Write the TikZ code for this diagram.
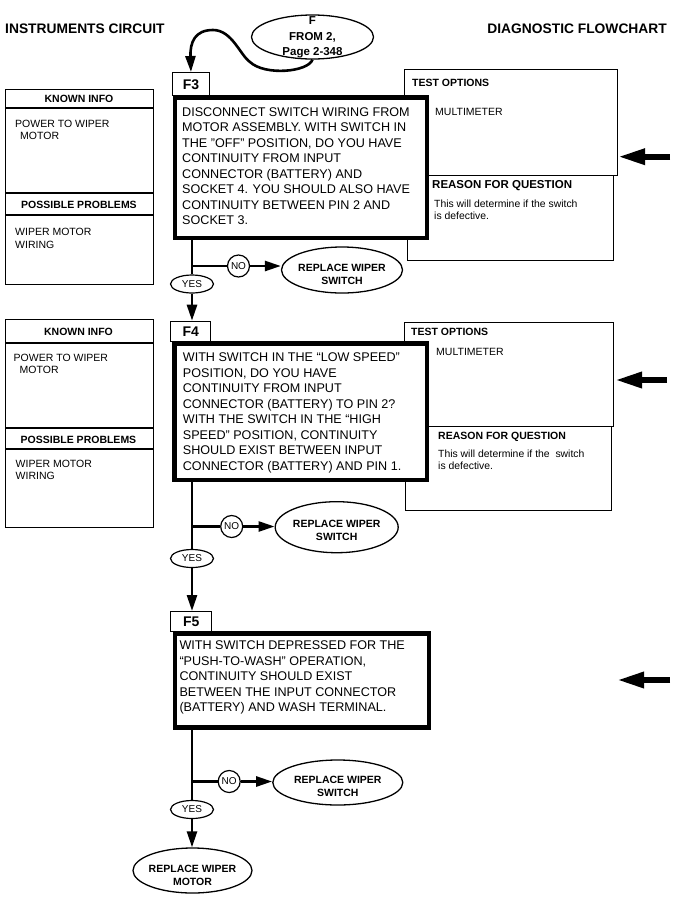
\documentclass[tikz,border=0pt]{standalone}
\usepackage{fontspec}
\setmainfont{Liberation Sans}
\usetikzlibrary{shapes.geometric,arrows.meta,calc}
\tikzset{
  thinbox/.style={draw, line width=1.2pt, inner sep=0pt, anchor=north west},
  mainbox/.style={draw, line width=4.8pt, fill=white, inner sep=0pt, anchor=north west},
  labbox/.style={draw, line width=1.4pt, fill=white, inner sep=0pt, anchor=north west, font=\fontsize{14}{16}\selectfont\bfseries},
  maintxt/.style={inner sep=0pt, anchor=north west, align=left, font=\fontsize{12.6}{15.5}\selectfont},
  headtxt/.style={inner sep=0pt, font=\fontsize{10.5}{12}\selectfont\bfseries},
  plaintxt/.style={inner sep=0pt, font=\fontsize{10.5}{12}\selectfont},
  infotxt/.style={inner sep=0pt, anchor=north west, align=left, font=\fontsize{10.5}{12.5}\selectfont},
  notetxt/.style={inner sep=0pt, anchor=north west, align=left, font=\fontsize{10.4}{12.2}\selectfont},
  thinoval/.style={ellipse, draw, line width=1.3pt, fill=white, inner sep=0pt},
  ovaltxt/.style={inner sep=0pt, anchor=north, align=center, font=\fontsize{10.5}{13}\selectfont\bfseries},
  ftxt/.style={inner sep=0pt, anchor=north, align=center, font=\fontsize{11.5}{15.5}\selectfont\bfseries},
  yesoval/.style={ellipse, draw, line width=1.2pt, fill=white, inner sep=0pt, minimum width=43pt, minimum height=18pt, font=\fontsize{10}{12}\selectfont},
  nocirc/.style={circle, draw, line width=1.2pt, fill=white, inner sep=0pt, minimum size=22pt, font=\fontsize{10}{11}\selectfont},
  flow/.style={line width=2.6pt},
  flowarrow/.style={flow, -{Triangle[length=16pt,width=10pt]}},
  bigarrow/.style={line width=6pt, -{Triangle[length=27pt,width=15pt]}},
  titletxt/.style={inner sep=0pt, font=\fontsize{13.8}{16}\selectfont\bfseries},
  thinline/.style={line width=1.2pt}
}
\begin{document}
\begin{tikzpicture}[x=1pt,y=-1pt]
\useasboundingbox[fill=white] (0,0) rectangle (683,898);

% titles
\node[titletxt, anchor=west] (t1) at (5,29) {INSTRUMENTS CIRCUIT};
\node[titletxt, anchor=east] (t2) at (667,29) {DIAGNOSTIC FLOWCHART};

% entry ellipse
\node[thinoval, minimum width=122pt, minimum height=44pt] (fell) at (312.5,37) {};
\node[ftxt] (ftext) at (312.5,16.5) {F\\FROM 2,\\Page 2-348};

% ===== F3 =====
\node[thinbox, minimum width=148pt, minimum height=195pt] (k3) at (5,89) {};
\draw[thinline] ($(k3.north west)+(0,19)$) -- ($(k3.north east)+(0,19)$);
\draw[thinline] ($(k3.north west)+(0,104)$) -- ($(k3.north east)+(0,104)$);
\draw[thinline] ($(k3.north west)+(0,126)$) -- ($(k3.north east)+(0,126)$);
\node[headtxt] (k3h) at (79,98.7) {KNOWN INFO};
\node[infotxt] (k3i) at (15,119.6) {POWER TO WIPER\\\hspace*{5pt}MOTOR};
\node[headtxt] (k3p) at (79,204.5) {POSSIBLE PROBLEMS};
\node[infotxt] (k3q) at (15,228) {WIPER MOTOR\\WIRING};

\node[thinbox, minimum width=213pt, minimum height=106pt] (o3) at (404,69) {};
\node[thinbox, minimum width=206pt, minimum height=85pt] (r3) at (407,175) {};
\node[headtxt, anchor=west] (o3h) at (412,83) {TEST OPTIONS};
\node[plaintxt, anchor=west] (o3m) at (435,111.7) {MULTIMETER};
\node[headtxt, anchor=west, font=\fontsize{11.5}{13}\selectfont\bfseries] (r3h) at (432,186) {REASON FOR QUESTION};
\node[notetxt] (r3n) at (434,200) {This will determine if the switch\\is defective.};

\node[labbox, minimum width=37.5pt, minimum height=23pt] (l3) at (171.5,72) {F3};
\node[mainbox, minimum width=252pt, minimum height=140.5pt] (b3) at (172.5,95) {};
\node[maintxt] (b3t) at (182,107.2) {DISCONNECT SWITCH WIRING FROM\\MOTOR ASSEMBLY. WITH SWITCH IN\\THE "OFF" POSITION, DO YOU HAVE\\CONTINUITY FROM INPUT\\CONNECTOR (BATTERY) AND\\SOCKET 4. YOU SHOULD ALSO HAVE\\CONTINUITY BETWEEN PIN 2 AND\\SOCKET 3.};

\node[yesoval] (y3) at (192,284) {YES};
\node[nocirc] (n3) at (238.5,266) {NO};
\node[thinoval, minimum width=121pt, minimum height=46pt] (s3) at (342,270) {};
\node[ovaltxt] (s3t) at (342,264) {REPLACE WIPER\\SWITCH};

% ===== F4 =====
\node[thinbox, minimum width=148pt, minimum height=208pt] (k4) at (5,319) {};
\draw[thinline] ($(k4.north west)+(0,24)$) -- ($(k4.north east)+(0,24)$);
\draw[thinline] ($(k4.north west)+(0,109)$) -- ($(k4.north east)+(0,109)$);
\draw[thinline] ($(k4.north west)+(0,130)$) -- ($(k4.north east)+(0,130)$);
\node[headtxt] (k4h) at (78.5,331.5) {KNOWN INFO};
\node[infotxt] (k4i) at (13.5,353.5) {POWER TO WIPER\\\hspace*{6pt}MOTOR};
\node[headtxt] (k4p) at (78.5,439.5) {POSSIBLE PROBLEMS};
\node[infotxt] (k4q) at (15.5,459.5) {WIPER MOTOR\\WIRING};

\node[thinbox, minimum width=209pt, minimum height=104pt] (o4) at (404,322) {};
\node[thinbox, minimum width=206pt, minimum height=84pt] (r4) at (405,426) {};
\node[headtxt, anchor=west] (o4h) at (411,332) {TEST OPTIONS};
\node[plaintxt, anchor=west] (o4m) at (436,352.3) {MULTIMETER};
\node[headtxt, anchor=west] (r4h) at (438,436.7) {REASON FOR QUESTION};
\node[notetxt] (r4n) at (438,450) {This will determine if the\ \ switch\\is defective.};

\node[labbox, minimum width=40pt, minimum height=20.3pt] (l4) at (170,320.7) {F4};
\node[mainbox, minimum width=252.5pt, minimum height=136.5pt] (b4) at (172,341) {};
\node[maintxt] (b4t) at (182.7,352.5) {WITH SWITCH IN THE “LOW SPEED”\\POSITION, DO YOU HAVE\\CONTINUITY FROM INPUT\\CONNECTOR (BATTERY) TO PIN 2?\\WITH THE SWITCH IN THE “HIGH\\SPEED” POSITION, CONTINUITY\\SHOULD EXIST BETWEEN INPUT\\CONNECTOR (BATTERY) AND PIN 1.};

\node[yesoval] (y4) at (192,558.5) {YES};
\node[nocirc] (n4) at (231.7,526.5) {NO};
\node[thinoval, minimum width=123pt, minimum height=51pt] (s4) at (336.7,527.2) {};
\node[ovaltxt] (s4t) at (336.7,519.5) {REPLACE WIPER\\SWITCH};

% ===== F5 =====
\node[labbox, minimum width=41pt, minimum height=20pt] (l5) at (170,611) {F5};
\node[mainbox, minimum width=254pt, minimum height=94pt] (b5) at (172.5,631) {};
\node[maintxt] (b5t) at (179.3,640.5) {WITH SWITCH DEPRESSED FOR THE\\“PUSH-TO-WASH” OPERATION,\\CONTINUITY SHOULD EXIST\\BETWEEN THE INPUT CONNECTOR\\(BATTERY) AND WASH TERMINAL.};

\node[yesoval] (y5) at (192,809.5) {YES};
\node[nocirc] (n5) at (229.2,781.5) {NO};
\node[thinoval, minimum width=130pt, minimum height=45pt] (s5) at (337.8,782.5) {};
\node[ovaltxt] (s5t) at (337.8,775.5) {REPLACE WIPER\\SWITCH};
\node[thinoval, minimum width=119pt, minimum height=45pt] (m5) at (192.5,870.5) {};
\node[ovaltxt] (m5t) at (192.5,864.5) {REPLACE WIPER\\MOTOR};

% ===== connectors =====
\draw[flowarrow] (fell.south) .. controls (308,72) and (265,76) .. (250,62)
  .. controls (240,55) and (232,30) .. (213,30)
  .. controls (195,30) and (190,42) .. (l3.north);

\draw[flow] (y3.north |- b3.south) -- (y3.north);
\draw[flow] (y3.north |- n3.west) -- (n3.west);
\draw[flowarrow] (n3.east) -- (n3.east -| s3.west);
\draw[flowarrow] (y3.south) -- (y3.south |- l4.north);

\draw[flow] (y4.north |- b4.south) -- (y4.north);
\draw[flow] (y4.north |- n4.west) -- (n4.west);
\draw[flowarrow] (n4.east) -- (n4.east -| s4.west);
\draw[flowarrow] (y4.south) -- (y4.south |- l5.north);

\draw[flow] (y5.north |- b5.south) -- (y5.north);
\draw[flow] (y5.north |- n5.west) -- (n5.west);
\draw[flowarrow] (n5.east) -- (n5.east -| s5.west);
\draw[flowarrow] (y5.south) -- (y5.south |- m5.north);

% side pointer arrows
\coordinate (a3s) at (670,156.7);
\coordinate (a3e) at (618,156.7);
\coordinate (a4s) at (667,380);
\coordinate (a4e) at (615,380);
\coordinate (a5s) at (670,680);
\coordinate (a5e) at (617,680);
\draw[bigarrow] (a3s) -- (a3e);
\draw[bigarrow] (a4s) -- (a4e);
\draw[bigarrow] (a5s) -- (a5e);
\end{tikzpicture}
\end{document}
